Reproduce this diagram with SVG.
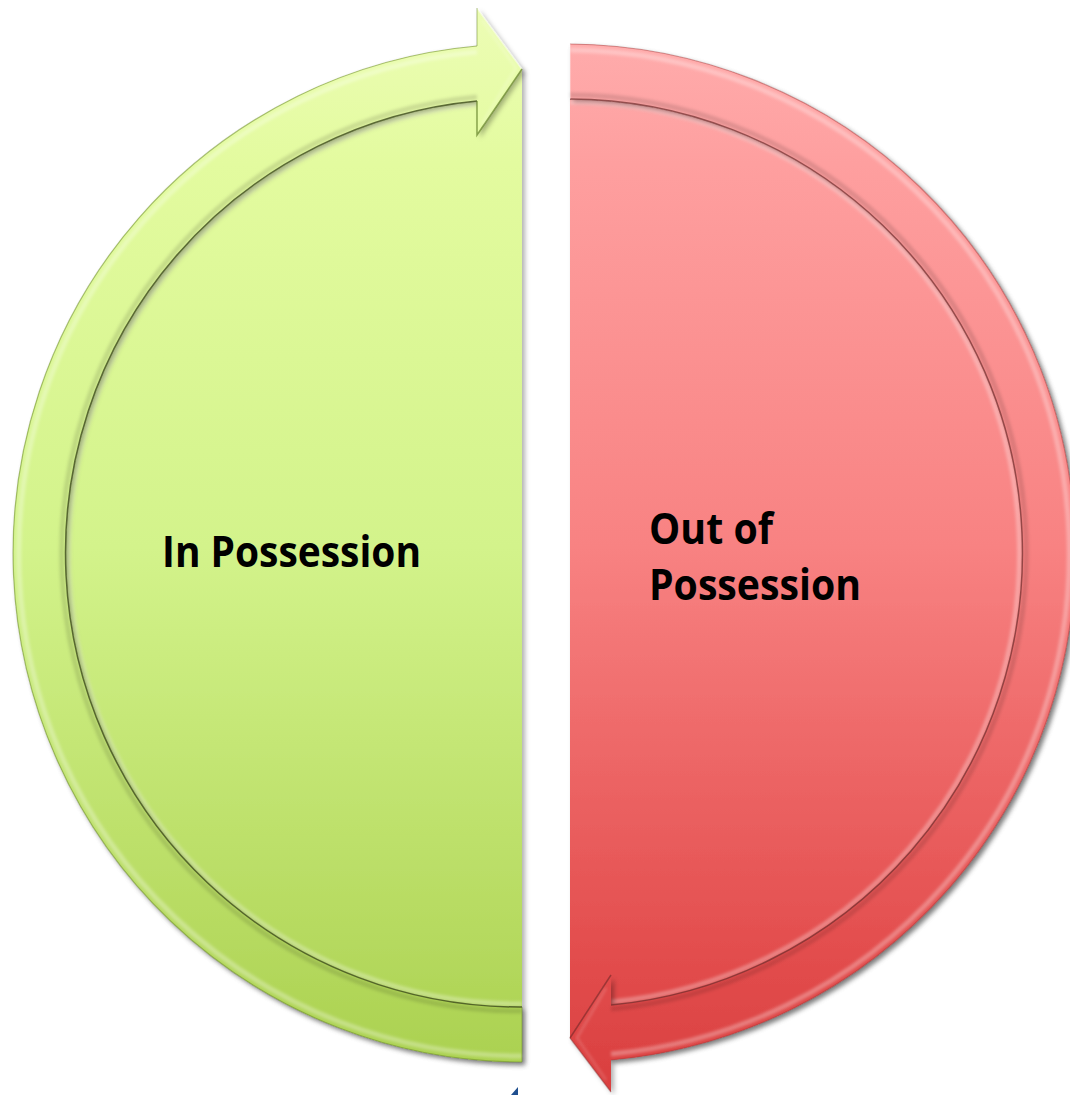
<svg xmlns="http://www.w3.org/2000/svg" width="1070" height="1095" viewBox="0 0 1070 1095">
  <defs>
    <linearGradient id="gGreen" gradientUnits="userSpaceOnUse" x1="0" y1="0" x2="0" y2="1095">
      <stop offset="0" stop-color="#edfdb6"/>
      <stop offset="0.15" stop-color="#e3fb9f"/>
      <stop offset="0.5" stop-color="#d3f38b"/>
      <stop offset="0.85" stop-color="#b6da60"/>
      <stop offset="1" stop-color="#a8cf4c"/>
    </linearGradient>
    <linearGradient id="gRed" gradientUnits="userSpaceOnUse" x1="0" y1="0" x2="0" y2="1095">
      <stop offset="0" stop-color="#ffb0b0"/>
      <stop offset="0.15" stop-color="#fe9f9f"/>
      <stop offset="0.5" stop-color="#f88282"/>
      <stop offset="0.85" stop-color="#e45050"/>
      <stop offset="1" stop-color="#d93e3e"/>
    </linearGradient>
    <filter id="shadow" x="-10%" y="-10%" width="120%" height="120%">
      <feDropShadow dx="3" dy="3" stdDeviation="2.5" flood-color="#000" flood-opacity="0.3"/>
    </filter>
    <filter id="soft" x="-5%" y="-5%" width="110%" height="110%">
      <feGaussianBlur stdDeviation="1.5"/>
    </filter>
  </defs>
  <style>
    .label { font-family: "Open Sans", "Liberation Sans", sans-serif; font-weight: 700; font-size: 43px; fill: #000; }
    .hl { fill: none; stroke: #fff; stroke-opacity: 0.3; stroke-width: 5; }
    .edgeG { fill: none; stroke: #6d8c2c; stroke-opacity: 0.55; stroke-width: 1.2; }
    .edgeR { fill: none; stroke: #a84040; stroke-opacity: 0.5; stroke-width: 1.2; }
    .innerG { fill: none; stroke: #3c4a1c; stroke-opacity: 0.8; stroke-width: 1.5; }
    .innerR { fill: none; stroke: #6e2c2c; stroke-opacity: 0.7; stroke-width: 1.5; }
    .shade { fill: none; stroke: #000; stroke-opacity: 0.12; stroke-width: 5; }
  </style>

  <!-- Nodes -->
  <g id="in-possession">
    <path d="M522,1062 A509,509 0 0 1 477,46 L522,69 Z" fill="url(#gGreen)" filter="url(#shadow)"/>
    <path d="M477,104 A451,451 0 0 0 522,1004" class="hl" stroke-opacity="0.2" stroke-width="3" filter="url(#soft)"/>
    <text class="label" x="162" y="567" textLength="259" lengthAdjust="spacingAndGlyphs">In Possession</text>
  </g>

  <g id="out-of-possession">
    <path d="M570,44 A509,509 0 0 1 611,1060 L570,1038 Z" fill="url(#gRed)" filter="url(#shadow)"/>
    <path d="M570,102 A451,451 0 0 1 611,1002" class="hl" stroke-opacity="0.15" stroke-width="3" filter="url(#soft)"/>
    <text class="label" x="649" y="544" textLength="124" lengthAdjust="spacingAndGlyphs">Out of</text>
    <text class="label" x="649" y="600" textLength="212" lengthAdjust="spacingAndGlyphs">Possession</text>
  </g>

  <!-- Connectors: the cycle arrows -->
  <g id="connectors">
    <g id="arrow-green">
      <path d="M522,1062 A509,509 0 0 1 477,46 L477,8 L522,69 L477,135 L477,101 A454,454 0 0 0 522,1007 Z" fill="url(#gGreen)" filter="url(#shadow)"/>
      <path d="M522,1056 A503,503 0 0 1 477,52" class="hl" filter="url(#soft)"/>
      <path d="M522,1011 A458,458 0 0 1 477,97" class="shade" filter="url(#soft)"/>
      <path d="M477,101 A454,454 0 0 0 522,1007" class="innerG"/>
      <path d="M522,1062 A509,509 0 0 1 477,46" class="edgeG"/>
      <path d="M477,8 L522,69" stroke="#fff" stroke-opacity="0.45" stroke-width="2" fill="none"/>
      <path d="M522,69 L477,135 L477,101" stroke="#5f7d25" stroke-opacity="0.7" stroke-width="1.5" fill="none"/>
      <path d="M477,46 L477,8" stroke="#6d8c2c" stroke-opacity="0.45" stroke-width="1.2" fill="none"/>
      <path d="M482,20 L516,68 L482,124" stroke="#fff" stroke-opacity="0.25" stroke-width="2" fill="none" filter="url(#soft)"/>
      <path d="M522,1007 L522,1062" stroke="#6d8c2c" stroke-opacity="0.45" stroke-width="1.2"/>
    </g>
    <g id="arrow-red">
      <path d="M570,44 A509,509 0 0 1 611,1060 L611,1092 L570,1038 L611,975 L611,1005 A454,454 0 0 0 570,99 Z" fill="url(#gRed)" filter="url(#shadow)"/>
      <path d="M570,50 A503,503 0 0 1 611,1054" class="hl" stroke-opacity="0.25" filter="url(#soft)"/>
      <path d="M570,95 A458,458 0 0 1 611,1009" class="shade" filter="url(#soft)"/>
      <path d="M611,1005 A454,454 0 0 0 570,99" class="innerR"/>
      <path d="M570,44 A509,509 0 0 1 611,1060" class="edgeR"/>
      <path d="M611,975 L570,1038" stroke="#7a2a2a" stroke-opacity="0.65" stroke-width="1.5" fill="none"/>
      <path d="M570,1038 L611,1092" stroke="#8a3030" stroke-opacity="0.45" stroke-width="1.3" fill="none"/>
      <path d="M606,988 L577,1038 L606,1080" stroke="#fff" stroke-opacity="0.2" stroke-width="2" fill="none" filter="url(#soft)"/>
      <path d="M570,44 L570,99" stroke="#fff" stroke-opacity="0.35" stroke-width="1.5"/>
    </g>
  </g>

  <polygon points="511,1095 518,1087 518,1095" fill="#1f4f8f"/>
</svg>
